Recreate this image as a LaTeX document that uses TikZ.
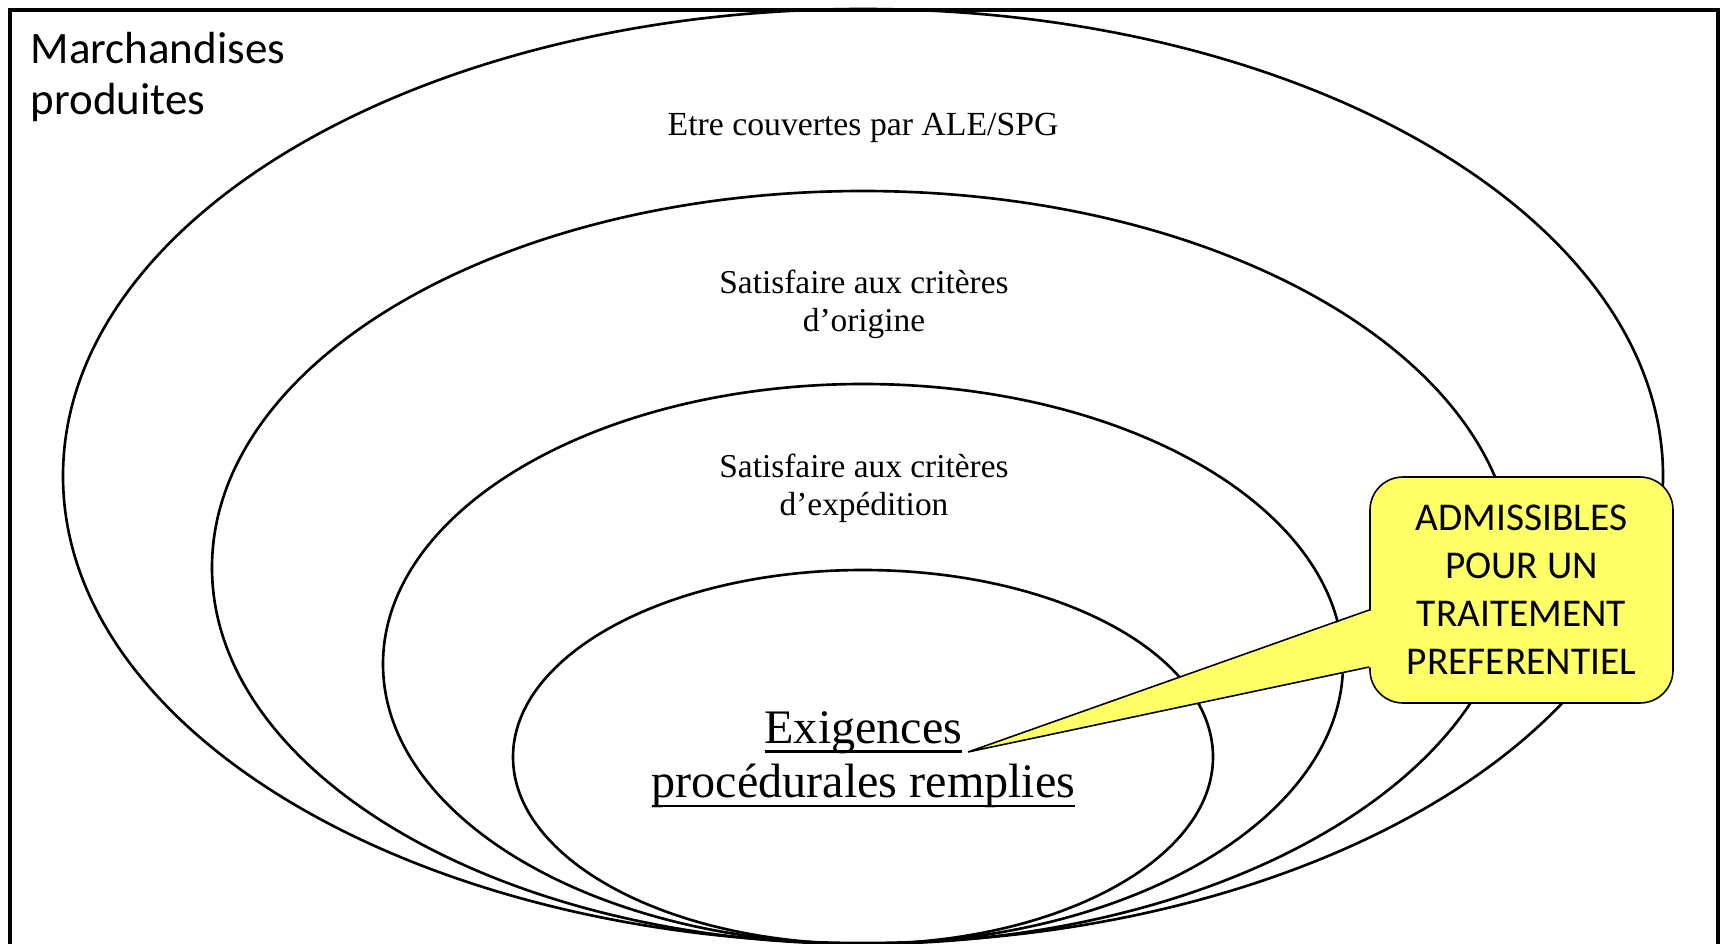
\documentclass[tikz,border=0pt]{standalone}
\usepackage{fontspec}
\setmainfont{Liberation Serif}
\newfontfamily\calibrifont{Carlito}
\definecolor{CalloutYellow}{RGB}{255,255,102}
\usetikzlibrary{positioning}
\newcommand{\ulword}[1]{\setbox0=\hbox{#1}\rlap{\rule[-2.7pt]{\wd0}{0.8pt}}\box0}

\begin{document}
\begin{tikzpicture}[
    ring/.style={line width=0.75pt},
    serifnote/.style={inner sep=0pt, align=center, font=\fontsize{9.5}{10.8}\selectfont},
  ]
  \useasboundingbox (0,0) rectangle (17.23,9.43);
  \clip (0,0) rectangle (17.23,9.43);
  \draw[line width=0.95pt] (0.10,-0.2) -- (0.10,9.33) -- (17.18,9.33) -- (17.18,-0.2);
  % nested conditions, all touching the bottom edge
  \draw[ring] (8.63,4.67) ellipse [x radius=8.00, y radius=4.67];
  \draw[ring] (8.63,3.755) ellipse [x radius=6.51, y radius=3.765];
  \draw[ring] (8.63,2.79) ellipse [x radius=4.80, y radius=2.80];
  \draw[ring] (8.63,1.86) ellipse [x radius=3.50, y radius=1.87];
  \node[inner sep=0pt, align=left, anchor=west, font=\calibrifont\fontsize{12.8}{14.5}\selectfont] (goods) at (0.30,8.66) {Marchandises\\produites};
  \node[serifnote, anchor=base, font=\fontsize{9.6}{11}\selectfont] (covered) at (8.63,8.08) {Etre couvertes par ALE/SPG};
  \node[serifnote] (origin) at (8.64,6.39) {Satisfaire aux critères\\d’origine};
  \node[serifnote] (shipping) at (8.64,4.545) {Satisfaire aux critères\\d’expédition};
  \node[inner sep=0pt, align=center, font=\fontsize{13.7}{15.4}\selectfont] (procedure) at (8.635,1.83) {\ulword{Exigences}\\\ulword{procédurales remplies}};
  % callout
  \node[draw, fill=CalloutYellow, line width=0.45pt, rounded corners=0.33cm, minimum width=3.03cm, minimum height=2.26cm, inner sep=0pt, align=center, font=\calibrifont\fontsize{11.2}{13.65}\selectfont] (callout) at (15.215,3.53) {ADMISSIBLES\\POUR UN\\TRAITEMENT\\PREFERENTIEL};
  \coordinate[below=2mm of callout.west] (ptrtop);
  \coordinate[below=7.7mm of callout.west] (ptrbot);
  \coordinate (tip) at (9.68,1.91);
  \fill[CalloutYellow] (tip) -- ([xshift=1pt]ptrtop) -- ([xshift=1pt]ptrbot) -- cycle;
  \draw[line width=0.45pt] (ptrtop) -- (tip) -- (ptrbot);
\end{tikzpicture}
\end{document}
